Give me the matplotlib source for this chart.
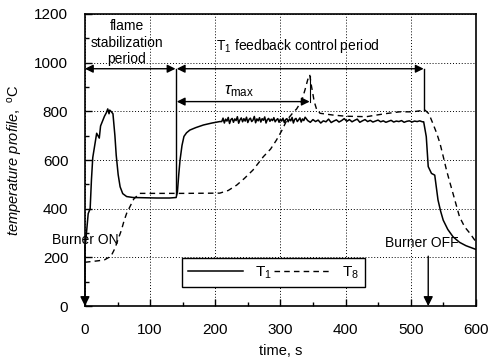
import numpy as np
import matplotlib
matplotlib.use("Agg")
import matplotlib.pyplot as plt
from matplotlib.ticker import MultipleLocator

plt.rcParams['font.family'] = ['Liberation Sans', 'DejaVu Sans']
plt.rcParams['mathtext.fontset'] = 'custom'
plt.rcParams['mathtext.rm'] = 'Liberation Sans'
plt.rcParams['mathtext.it'] = 'Liberation Sans:italic'

# ---- data ----
t1_time_a = [1, 3, 5, 8, 10, 12, 15, 18, 20, 22, 24, 27, 30, 33, 35, 37, 38, 40, 43, 46, 48, 51,
             54, 58, 64, 74, 90, 110, 130, 140, 142, 144, 146, 149, 152, 156, 161, 170, 182, 195, 207]
t1_vals_a = [260, 320, 380, 400, 520, 610, 660, 710, 700, 690, 740, 760, 780, 795, 810, 790, 805, 800,
             790, 700, 620, 540, 490, 462, 450, 446, 445, 444, 444, 446, 470, 540, 600, 660, 697, 712,
             723, 733, 744, 752, 758]
t1_noise_a = [758, 772, 752, 768, 760, 775, 750, 766, 771, 755, 769, 762, 778, 751, 765, 773, 757, 770,
              760, 776, 754, 767, 772, 758, 764, 779, 753, 769, 761, 774, 756, 770, 763, 777, 752, 766,
              771, 759, 768, 762, 774, 757, 765, 770, 755, 768, 760, 772, 754, 766, 770, 757, 769, 761,
              775, 752, 767, 771, 758, 765, 773, 756, 769, 762, 776]
t1_noise_b = [762, 755, 766, 758, 764, 752, 761, 757, 768, 754, 760, 765, 756, 762, 770, 759, 766, 757,
              763, 768, 755, 761, 766, 758, 763, 756, 760, 764, 757, 761, 755, 759, 763, 756, 760, 758,
              762, 755, 759, 761, 756, 760, 758, 761, 757]
t1_time_c = [520, 524, 527, 532, 537, 542, 546, 550, 557, 565, 575, 585, 596, 600]
t1_vals_c = [757, 696, 573, 545, 538, 436, 390, 353, 315, 285, 262, 248, 237, 233]

t8_time = [0, 10, 20, 30, 40, 46, 51, 56, 60, 64, 69, 75, 84, 100, 150, 207, 220, 233, 245, 258,
           274, 285, 294, 302, 310, 318, 325, 333, 338, 342, 345, 348, 352, 356, 361, 380, 400,
           432, 460, 483, 503, 522, 528, 534, 540, 545, 550, 555, 560, 565, 570, 575, 583, 591, 600]
t8_vals = [180, 183, 186, 190, 205, 237, 275, 312, 350, 381, 408, 440, 463, 463, 463, 464, 475,
           497, 525, 559, 614, 645, 682, 720, 764, 790, 810, 845, 890, 930, 950, 900, 840, 805, 792,
           785, 780, 778, 790, 798, 798, 805, 790, 751, 710, 669, 615, 559, 510, 463, 415, 367, 325,
           299, 265]

x_ticks = [0, 100, 200, 300, 400, 500, 600]
y_ticks = [0, 200, 400, 600, 800, 1000, 1200]

t1_time = (t1_time_a
           + list(np.arange(210, 210 + 2 * len(t1_noise_a), 2))
           + list(np.arange(342, 342 + 4 * len(t1_noise_b), 4))
           + t1_time_c)
t1_vals = t1_vals_a + t1_noise_a + t1_noise_b + t1_vals_c

# ---- figure ----
fig = plt.figure(figsize=(4.91, 3.58), dpi=100)
ax = fig.add_axes([0.173, 0.145, 0.796, 0.816])

ax.plot(t1_time, t1_vals, color='black', lw=1.1, label='T$_1$')
ax.plot(t8_time, t8_vals, color='black', lw=1.0, ls=(0, (4, 3)), label='T$_8$')

ax.set_xlim(0, 600)
ax.set_ylim(0, 1200)
ax.set_xticks(x_ticks)
ax.set_yticks(y_ticks)
ax.xaxis.set_minor_locator(MultipleLocator(50))
ax.yaxis.set_minor_locator(MultipleLocator(100))
ax.tick_params(which='both', direction='in', color='black')
ax.tick_params(which='major', length=5, width=1)
ax.tick_params(which='minor', length=3, width=1)
ax.tick_params(axis='x', pad=12, labelsize=11)
ax.tick_params(axis='y', pad=12, labelsize=11)
for s in ax.spines.values():
    s.set_linewidth(1.2)
ax.grid(True, which='major', color='black', ls=(0, (1, 2)), lw=0.7)

ax.set_xlabel('time, s', fontsize=10.5, labelpad=5)
ax.set_ylabel(r'$\it{temperature\ profile,}$ $^{\rm o}$C', fontsize=10.5, labelpad=7)

# annotations
arrow_y = 975
ap = dict(arrowstyle='<|-|>', color='black', lw=1.0, mutation_scale=12, shrinkA=0, shrinkB=0)
ax.annotate('', xy=(0, arrow_y), xytext=(139, arrow_y), arrowprops=ap)
ax.annotate('', xy=(141, arrow_y), xytext=(520, arrow_y), arrowprops=ap)
ax.annotate('', xy=(141, 840), xytext=(345, 840), arrowprops=ap)
ax.plot([140, 140], [462, arrow_y], color='black', lw=1.0)
ax.plot([521, 521], [805, arrow_y], color='black', lw=1.0)
ax.plot([346, 346], [840, 945], color='black', lw=0.8)

ax.text(64, 1082, 'flame\nstabilization\nperiod', ha='center', va='center', fontsize=10,
        linespacing=1.25)
ax.text(201, 1068, 'T$_1$ feedback control period', ha='left', va='center', fontsize=10)
ax.text(214, 882, r'$\tau_{\rm max}$', ha='left', va='center', fontsize=12)

ax.text(1, 271, 'Burner ON', ha='center', va='center', fontsize=10)
ax.annotate('', xy=(0, 0), xytext=(0, 250),
            arrowprops=dict(arrowstyle='-|>', color='black', lw=1.0, mutation_scale=14,
                            shrinkA=0, shrinkB=0))
ax.text(517, 258, 'Burner OFF', ha='center', va='center', fontsize=10)
ax.annotate('', xy=(527, 0), xytext=(527, 205),
            arrowprops=dict(arrowstyle='-|>', color='black', lw=1.0, mutation_scale=14,
                            shrinkA=0, shrinkB=0))

leg = ax.legend(loc='lower left', bbox_to_anchor=(0.248, 0.065, 0.468, 0.137), mode='expand',
                ncol=2, fancybox=False, edgecolor='black', framealpha=1, fontsize=11,
                handlelength=3.6, borderaxespad=0, columnspacing=1.2, handletextpad=0.8)
leg.get_frame().set_linewidth(1.0)

fig.savefig('out.png', dpi=100)
